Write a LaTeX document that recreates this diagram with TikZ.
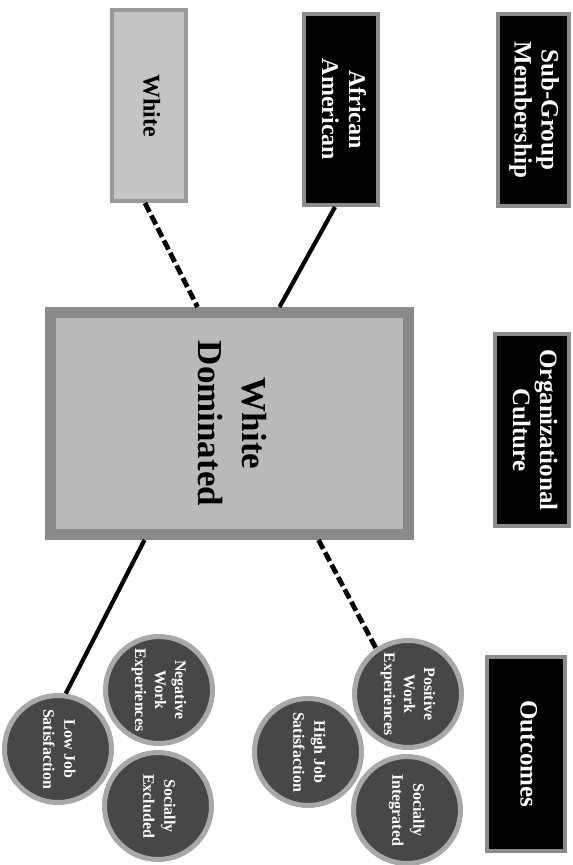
\documentclass[tikz,border=0pt]{standalone}
\usepackage{fontspec}
\setmainfont{Liberation Serif}
\usepackage{graphicx}
\definecolor{rimgray}{HTML}{8C8C8C}
\definecolor{lightfill}{HTML}{C4C4C4}
\definecolor{lightrim}{HTML}{999999}
\definecolor{wdfill}{HTML}{B9B9B9}
\definecolor{wdrim}{HTML}{8A8A8A}
\definecolor{circfill}{HTML}{474747}
\definecolor{circrim}{HTML}{A8A8A8}
\newcommand{\rtxt}[3]{\rotatebox{-90}{\fontsize{#1}{#2}\selectfont\bfseries\begin{tabular}{@{}c@{}}#3\end{tabular}}}
\begin{document}
\begin{tikzpicture}[x=1pt,y=-1pt,
  darkbox/.style={rectangle,draw=rimgray,line width=4pt,fill=black,text=white,inner sep=0pt},
  lightbox/.style={rectangle,draw=lightrim,line width=4pt,fill=lightfill,text=black,inner sep=0pt},
  bigbox/.style={rectangle,draw=wdrim,line width=11pt,fill=wdfill,text=black,inner sep=0pt},
  outcircle/.style={circle,draw=circrim,line width=5pt,fill=circfill,text=white,inner sep=0pt,minimum size=107pt},
  solidlink/.style={line width=4.2pt,draw=black},
  dashlink/.style={line width=4.8pt,draw=black,dash pattern=on 10pt off 4pt}]
\useasboundingbox (0,0) rectangle (573,865);
% header boxes
\node[darkbox,minimum width=71pt,minimum height=192pt] (sub) at (533.5,110) {\rtxt{25}{27}{Sub-Group\\Membership}};
\node[darkbox,minimum width=74pt,minimum height=192pt] (org) at (532,430) {\rtxt{25}{27}{Organizational\\Culture}};
\node[darkbox,minimum width=78pt,minimum height=194pt] (out) at (526,754) {\rtxt{25}{27}{Outcomes}};
% sub-groups
\node[darkbox,minimum width=74pt,minimum height=191pt] (aa) at (341,109.5) {\rtxt{24}{27}{African\\American}};
\node[lightbox,minimum width=74pt,minimum height=191pt] (white) at (149,105.5) {\rtxt{24}{27}{White}};
% culture
\node[bigbox,minimum width=358pt,minimum height=222pt] (wd) at (229.5,423.5) {\rtxt{35}{44}{White\\Dominated}};
% outcomes
\node[outcircle] (pos) at (408,694) {\rtxt{16}{20}{Positive\\Work\\Experiences}};
\node[outcircle] (integ) at (407,810) {\rtxt{16}{21}{Socially\\Integrated}};
\node[outcircle] (high) at (308,752) {\rtxt{16}{21}{High Job\\Satisfaction}};
\node[outcircle] (neg) at (159,690) {\rtxt{16}{20}{Negative\\Work\\Experiences}};
\node[outcircle] (excl) at (158,806) {\rtxt{16}{21}{Socially\\Excluded}};
\node[outcircle] (low) at (58,749) {\rtxt{16}{21}{Low Job\\Satisfaction}};
% connectors
\draw[solidlink] ([xshift=-6pt]aa.south) -- ([xshift=50pt]wd.north);
\draw[dashlink] ([xshift=-4pt]white.south) -- ([xshift=-32pt]wd.north);
\draw[solidlink] ([xshift=-85pt]wd.south) -- (low.82);
\draw[dashlink] ([xshift=89pt]wd.south) -- (pos.125);
\end{tikzpicture}
\end{document}
